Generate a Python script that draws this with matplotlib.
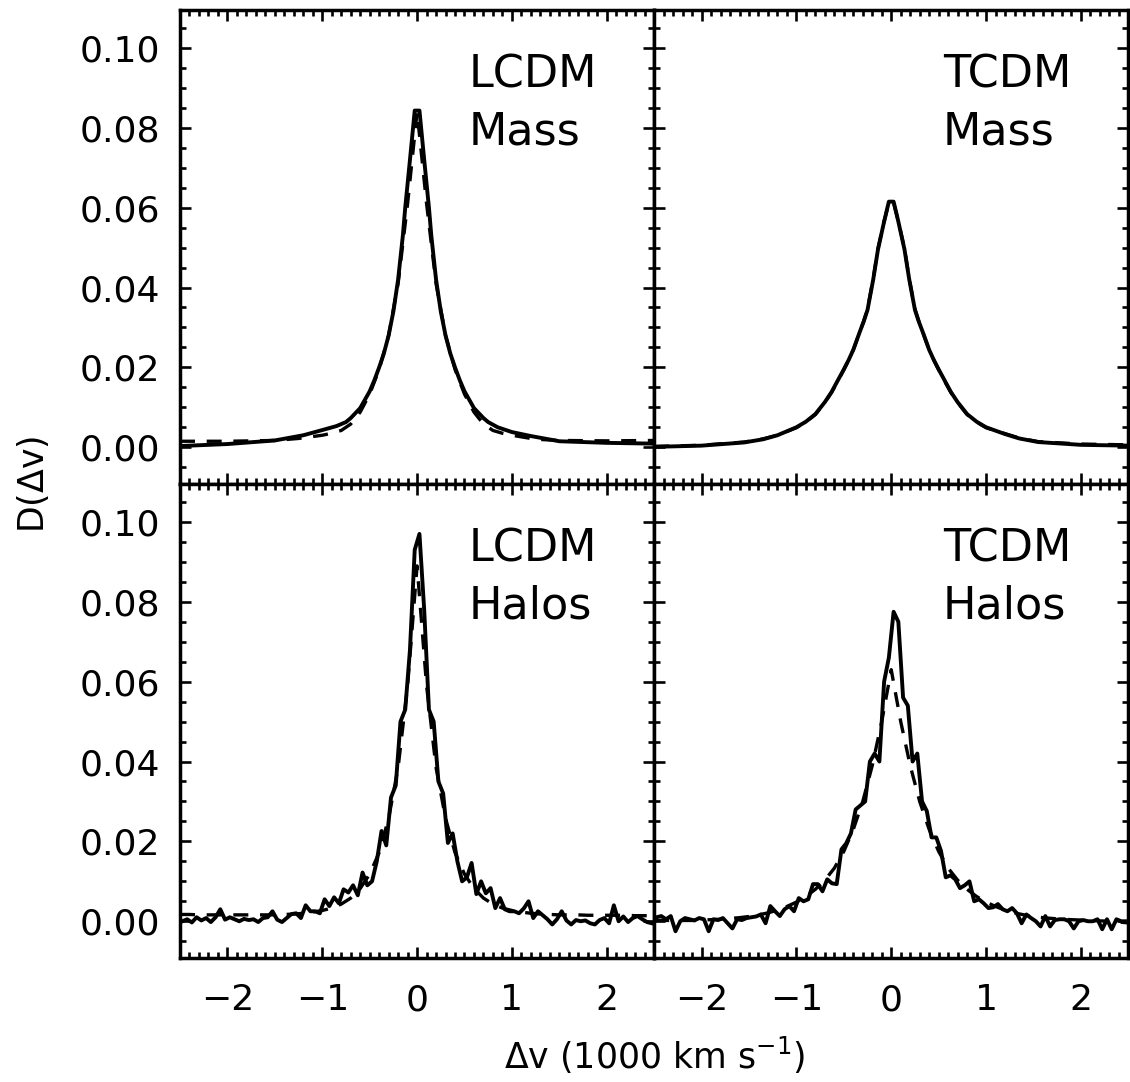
import numpy as np
import matplotlib.pyplot as plt
from matplotlib.ticker import MultipleLocator, FormatStrFormatter

plt.rcParams['font.family'] = 'DejaVu Sans'
plt.rcParams['mathtext.fontset'] = 'dejavusans'

# LCDM mass: measured (solid) and fit (dashed)
v_lcdm_mass = [-2.5, -2.0, -1.5, -1.2, -1.0, -0.85, -0.75, -0.7, -0.6, -0.5, -0.45, -0.4, -0.35, -0.3,
               -0.25, -0.2, -0.15, -0.125, -0.075, -0.025, 0.025, 0.075, 0.125, 0.15, 0.2, 0.25,
               0.3, 0.35, 0.4, 0.45, 0.5, 0.6, 0.7, 0.75, 0.85, 1.0, 1.2, 1.5, 2.0, 2.5]
d_lcdm_mass = [0.0003, 0.0008, 0.0017, 0.0030, 0.0043, 0.0053, 0.0063, 0.0073, 0.0098, 0.0140, 0.0168,
               0.0200, 0.0235, 0.0280, 0.0340, 0.0420, 0.0530, 0.0600, 0.0720, 0.0843, 0.0843, 0.0720,
               0.0600, 0.0530, 0.0420, 0.0340, 0.0280, 0.0235, 0.0200, 0.0168, 0.0140, 0.0098, 0.0073,
               0.0063, 0.0050, 0.0038, 0.0028, 0.0015, 0.0011, 0.0009]
v_lcdm_mass_fit = [-2.5, -2.0, -1.5, -1.25, -1.0, -0.9, -0.8, -0.7, -0.6, -0.5, -0.4, -0.3, -0.2, -0.1, 0.0,
                   0.1, 0.2, 0.3, 0.4, 0.5, 0.6, 0.7, 0.8, 0.9, 1.0, 1.25, 1.5, 2.0, 2.5]
d_lcdm_mass_fit = [0.0015, 0.0015, 0.0017, 0.0022, 0.0030, 0.0035, 0.0042, 0.0058, 0.0088, 0.0133, 0.0195,
                   0.0280, 0.0410, 0.0610, 0.0840, 0.0610, 0.0410, 0.0280, 0.0195, 0.0133, 0.0088, 0.0058,
                   0.0042, 0.0035, 0.0030, 0.0020, 0.0017, 0.0016, 0.0017]

# TCDM mass
v_tcdm_mass = [-2.5, -2.0, -1.55, -1.35, -1.2, -1.0, -0.9, -0.8, -0.7, -0.63, -0.58, -0.5, -0.45, -0.4,
               -0.33, -0.29, -0.25, -0.19, -0.14, -0.075, -0.025, 0.025, 0.075, 0.14, 0.19, 0.25,
               0.29, 0.33, 0.4, 0.45, 0.5, 0.58, 0.63, 0.7, 0.8, 0.9, 1.0, 1.2, 1.35, 1.55, 2.0, 2.5]
d_tcdm_mass = [0.0001, 0.0004, 0.0012, 0.0020, 0.0030, 0.0050, 0.0064, 0.0083, 0.0113, 0.0138, 0.0160,
               0.0195, 0.0218, 0.0244, 0.0290, 0.0315, 0.0344, 0.0420, 0.0495, 0.0565, 0.0615, 0.0615,
               0.0565, 0.0495, 0.0420, 0.0344, 0.0315, 0.0290, 0.0244, 0.0218, 0.0195, 0.0160, 0.0138,
               0.0113, 0.0083, 0.0064, 0.0050, 0.0033, 0.0022, 0.0013, 0.0006, 0.0004]
d_tcdm_mass_fit = [0.0002, 0.0005, 0.0013, 0.0021, 0.0030, 0.0049, 0.0063, 0.0082, 0.0112, 0.0137, 0.0158,
                   0.0194, 0.0218, 0.0244, 0.0290, 0.0316, 0.0346, 0.0422, 0.0497, 0.0566, 0.0612, 0.0612,
                   0.0566, 0.0497, 0.0422, 0.0346, 0.0316, 0.0290, 0.0244, 0.0218, 0.0194, 0.0158, 0.0137,
                   0.0112, 0.0082, 0.0063, 0.0049, 0.0034, 0.0023, 0.0014, 0.0008, 0.0006]

# halo pair histograms, bins of 50 km/s
v_bins = np.linspace(-2.475, 2.475, 100)
d_lcdm_halo = [0.0000, 0.0005, -0.0003, 0.0010, 0.0002, 0.0008, -0.0002, 0.0010, 0.0030, 0.0004,
               0.0010, 0.0005, 0.0000, 0.0006, 0.0003, 0.0005, -0.0002, 0.0008, 0.0010, 0.0025,
               0.0004, -0.0002, 0.0008, 0.0018, 0.0020, 0.0008, 0.0040, 0.0025, 0.0025, 0.0020,
               0.0055, 0.0038, 0.0060, 0.0045, 0.0080, 0.0072, 0.0090, 0.0065, 0.0122, 0.0090,
               0.0100, 0.0150, 0.0226, 0.0190, 0.0310, 0.0340, 0.0500, 0.0530, 0.0680, 0.0930,
               0.0970, 0.0780, 0.0530, 0.0500, 0.0350, 0.0320, 0.0196, 0.0220, 0.0150, 0.0100,
               0.0110, 0.0146, 0.0068, 0.0100, 0.0070, 0.0083, 0.0033, 0.0058, 0.0030, 0.0025,
               0.0025, 0.0020, 0.0032, 0.0050, 0.0008, 0.0025, 0.0015, 0.0005, -0.0008, 0.0005,
               0.0025, 0.0002, -0.0008, 0.0003, 0.0000, 0.0002, -0.0005, -0.0008, 0.0003, 0.0008,
               -0.0005, 0.0040, 0.0000, 0.0012, -0.0002, 0.0008, 0.0013, 0.0005, -0.0002, -0.0005]
d_tcdm_halo = [0.0010, 0.0013, 0.0005, 0.0013, -0.0025, 0.0000, 0.0008, 0.0005, 0.0002, 0.0008,
               0.0005, -0.0025, 0.0005, 0.0003, 0.0008, -0.0005, -0.0018, 0.0005, 0.0003, 0.0008,
               0.0010, 0.0012, 0.0017, -0.0005, 0.0038, 0.0025, 0.0013, 0.0030, 0.0038, 0.0025,
               0.0058, 0.0050, 0.0055, 0.0093, 0.0093, 0.0075, 0.0105, 0.0095, 0.0093, 0.0180,
               0.0195, 0.0220, 0.0280, 0.0290, 0.0300, 0.0400, 0.0420, 0.0400, 0.0600, 0.0660,
               0.0775, 0.0750, 0.0560, 0.0540, 0.0400, 0.0420, 0.0300, 0.0276, 0.0210, 0.0210,
               0.0176, 0.0110, 0.0115, 0.0105, 0.0083, 0.0090, 0.0100, 0.0050, 0.0055, 0.0045,
               0.0033, 0.0035, 0.0043, 0.0030, 0.0025, 0.0033, 0.0020, -0.0005, 0.0017, 0.0008,
               0.0000, -0.0013, 0.0013, -0.0013, 0.0003, 0.0005, 0.0005, 0.0000, -0.0018, 0.0000,
               0.0003, 0.0000, 0.0000, 0.0005, -0.0020, 0.0005, -0.0020, 0.0005, 0.0000, 0.0000]

v_fit = np.linspace(-2.5, 2.5, 51)
d_lcdm_halo_fit = [0.0017, 0.0017, 0.0016, 0.0016, 0.0016, 0.0016, 0.0016, 0.0016, 0.0016, 0.0016,
                   0.0016, 0.0017, 0.0018, 0.0020, 0.0023, 0.0027, 0.0033, 0.0043, 0.0058, 0.0082,
                   0.0118, 0.0172, 0.0258, 0.0385, 0.0590, 0.0890, 0.0590, 0.0385, 0.0258, 0.0172,
                   0.0118, 0.0082, 0.0058, 0.0043, 0.0033, 0.0027, 0.0023, 0.0020, 0.0018, 0.0017,
                   0.0016, 0.0016, 0.0016, 0.0015, 0.0015, 0.0015, 0.0015, 0.0015, 0.0014, 0.0014, 0.0014]
d_tcdm_halo_fit = [0.0002, 0.0002, 0.0002, 0.0002, 0.0002, 0.0003, 0.0004, 0.0005, 0.0007, 0.0009,
                   0.0012, 0.0016, 0.0021, 0.0028, 0.0037, 0.0048, 0.0062, 0.0080, 0.0103, 0.0133,
                   0.0175, 0.0230, 0.0300, 0.0390, 0.0500, 0.0630, 0.0500, 0.0390, 0.0300, 0.0230,
                   0.0175, 0.0133, 0.0103, 0.0080, 0.0062, 0.0048, 0.0037, 0.0028, 0.0021, 0.0016,
                   0.0012, 0.0009, 0.0007, 0.0005, 0.0004, 0.0003, 0.0002, 0.0001, 0.0000, -0.0002, -0.0004]

labels = [("LCDM", "Mass"), ("TCDM", "Mass"), ("LCDM", "Halos"), ("TCDM", "Halos")]

fig, axes = plt.subplots(2, 2, figsize=(11.3, 10.82), dpi=100, sharex=True, sharey=True)
fig.subplots_adjust(left=0.1593, right=0.9985, bottom=0.1146, top=0.9908, wspace=0, hspace=0)

curves = [(v_lcdm_mass, d_lcdm_mass, v_lcdm_mass_fit, d_lcdm_mass_fit),
          (v_tcdm_mass, d_tcdm_mass, v_tcdm_mass, d_tcdm_mass_fit),
          (v_bins, d_lcdm_halo, v_fit, d_lcdm_halo_fit),
          (v_bins, d_tcdm_halo, v_fit, d_tcdm_halo_fit)]

for ax, (xs, ys, xd, yd), (lab1, lab2) in zip(axes.flat, curves, labels):
    ax.plot(xd, yd, color='black', lw=2.4, ls=(0, (4.5, 3.5)))
    ax.plot(xs, ys, color='black', lw=2.8)
    ax.set_xlim(-2.5, 2.5)
    ax.set_ylim(-0.0092, 0.1095)
    ax.xaxis.set_major_locator(MultipleLocator(1))
    ax.xaxis.set_minor_locator(MultipleLocator(0.1))
    ax.yaxis.set_major_locator(MultipleLocator(0.02))
    ax.yaxis.set_minor_locator(MultipleLocator(0.005))
    ax.yaxis.set_major_formatter(FormatStrFormatter('%.2f'))
    ax.tick_params(which='both', direction='in', top=True, right=True, width=1.9, labelsize=26)
    ax.tick_params(which='major', length=8)
    ax.tick_params(which='minor', length=4)
    ax.tick_params(axis='x', pad=18)
    ax.tick_params(axis='y', pad=14)
    for sp in ax.spines.values():
        sp.set_linewidth(2.5)
    ax.text(0.547, 0.0902, lab1, fontsize=32)
    ax.text(0.547, 0.0759, lab2, fontsize=32)

fig.text(0.029, 0.552, r"D($\Delta$v)", rotation=90, ha='center', va='center', fontsize=25)
fig.text(0.5796, 0.025, r"$\Delta$v (1000 km s$^{-1}$)", ha='center', va='center', fontsize=25)

plt.savefig("out.png", dpi=100)
